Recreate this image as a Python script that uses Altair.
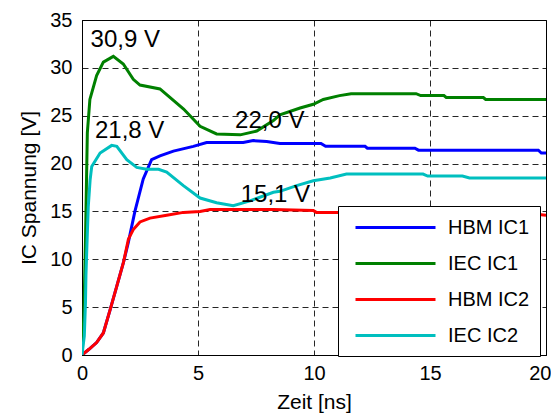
import altair as alt
import pandas as pd

# ---- data ----
series_names = ["HBM IC1", "IEC IC1", "HBM IC2", "IEC IC2"]
series_colors = ["#0000FF", "#008000", "#FF0000", "#00BFBF"]

hbm1_t = [0, 0.3, 0.63, 0.92, 1.22, 1.5, 1.79, 2.0, 2.28, 2.64, 3.0, 3.36, 3.94, 4.8, 5.37,
          6.95, 7.38, 7.96, 8.53, 10.3, 10.5, 12.2, 12.3, 14.35, 14.5, 19.67, 19.8, 20]
hbm1_v = [0, 0.6, 1.3, 2.3, 4.8, 7.2, 9.7, 11.8, 15.0, 18.4, 20.4, 20.8, 21.3, 21.8, 22.2,
          22.2, 22.4, 22.3, 22.1, 22.1, 21.8, 21.8, 21.6, 21.6, 21.4, 21.4, 21.1, 21.1]

iec1_t = [0, 0.08, 0.15, 0.2, 0.23, 0.34, 0.63, 0.92, 1.35, 1.78, 2.21, 2.5, 3.36, 3.65, 4.38,
          5.09, 5.8, 6.82, 7.53, 8.25, 8.53, 9.4, 9.97, 10.4, 11.1, 11.6, 14.4, 14.6, 15.6,
          15.7, 17.3, 17.4, 20]
iec1_v = [0, 4, 12, 19, 23.2, 26.7, 29.2, 30.6, 31.2, 30.4, 28.8, 28.2, 27.8, 27.2, 25.7,
          23.9, 23.1, 23.0, 23.4, 24.5, 25.1, 25.8, 26.2, 26.7, 27.1, 27.3, 27.3, 27.1, 27.1,
          26.9, 26.9, 26.7, 26.7]

hbm2_t = [0, 0.3, 0.63, 0.92, 1.22, 1.5, 1.79, 2.0, 2.21, 2.5, 2.93, 3.65, 4.37, 5.09, 5.52,
          8.25, 9.97, 10.1, 12, 14, 16, 18, 19.6, 20]
hbm2_v = [0, 0.6, 1.3, 2.3, 4.8, 7.2, 9.7, 12.1, 13.1, 13.9, 14.3, 14.6, 14.9, 15.0, 15.2,
          15.2, 15.1, 14.9, 14.9, 14.8, 14.8, 14.8, 14.7, 14.6]

iec2_t = [0, 0.1, 0.15, 0.17, 0.22, 0.27, 0.35, 0.42, 0.78, 1.28, 1.5, 1.93, 2.36, 2.79, 3.3,
          3.65, 4.37, 5.09, 5.8, 6.52, 7.24, 8.25, 8.53, 9.25, 9.97, 10.7, 11.4, 14.7, 14.9,
          16.4, 16.7, 20]
iec2_v = [0, 2, 5.5, 8.3, 12, 15.5, 18.3, 19.7, 21.1, 21.9, 21.8, 20.4, 19.6, 19.4, 19.4,
          19.1, 17.7, 16.4, 15.9, 15.6, 16.1, 17.0, 17.1, 17.7, 18.2, 18.5, 18.9, 18.9, 18.7,
          18.7, 18.5, 18.5]

ann_text = ["30,9 V", "21,8 V", "22,0 V", "15,1 V"]
ann_x = [0.37, 0.56, 6.6, 6.84]
ann_y = [32.2, 22.7, 23.7, 16.0]

x_ticks = [0, 5, 10, 15, 20]
y_ticks = [0, 5, 10, 15, 20, 25, 30, 35]

# ---- tables ----
rows = []
for name, ts, vs in zip(series_names, [hbm1_t, iec1_t, hbm2_t, iec2_t],
                        [hbm1_v, iec1_v, hbm2_v, iec2_v]):
    for i, (t, v) in enumerate(zip(ts, vs)):
        rows.append({"Serie": name, "t": t, "v": v, "i": i})
df = pd.DataFrame(rows)
ann = pd.DataFrame({"label": ann_text, "t": ann_x, "v": ann_y})

FONT = "Liberation Sans"

x_enc = alt.X("t:Q", scale=alt.Scale(domain=[0, 20], nice=False),
              axis=alt.Axis(
                  title="Zeit [ns]", values=x_ticks, format="d",
                  labelAlign={"condition": {"test": "datum.value == 20", "value": "right"},
                              "value": "center"},
                  labelOffset={"condition": {"test": "datum.value == 20", "value": 5},
                               "value": 0},
              ))
y_enc = alt.Y("v:Q", scale=alt.Scale(domain=[0, 35], nice=False),
              axis=alt.Axis(title="IC Spannung [V]", values=y_ticks, format="d"))

lines = alt.Chart(df).mark_line(strokeWidth=3, clip=True).encode(
    x=x_enc,
    y=y_enc,
    order="i:Q",
    color=alt.Color("Serie:N",
                    scale=alt.Scale(domain=series_names, range=series_colors),
                    sort=series_names,
                    legend=alt.Legend(
                        title=None, orient="none", legendX=256, legendY=186,
                        symbolType="M-0.4,0H7.6", symbolSize=400, symbolStrokeWidth=3,
                        labelFontSize=20, labelFont=FONT, labelColor="black",
                        labelOffset=77, padding=10, rowPadding=14,
                        fillColor="white", strokeColor="black",
                    )),
)

labels = alt.Chart(ann).mark_text(
    align="left", baseline="alphabetic", fontSize=24, font=FONT, color="black"
).encode(x="t:Q", y="v:Q", text="label:N")

chart = alt.layer(lines, labels).properties(
    width=464, height=335,
    autosize=alt.AutoSizeParams(type="none"),
    padding={"left": 74, "top": 12, "right": 5, "bottom": 62},
    background="white",
).configure_view(
    stroke="black", strokeWidth=1
).configure_axis(
    labelFont=FONT, labelFontSize=20, labelColor="black",
    titleFont=FONT, titleFontSize=21, titleFontWeight="normal", titleColor="black",
    grid=True, gridColor="black", gridDash=[6, 4], gridWidth=1, gridOpacity=0.85,
    ticks=False, domainColor="black", domainWidth=1,
).configure_axisX(
    labelPadding=8, titlePadding=8,
).configure_axisY(
    labelPadding=10, titlePadding=10,
)

chart.save("out.html", embed_options={"renderer": "svg", "actions": False})
